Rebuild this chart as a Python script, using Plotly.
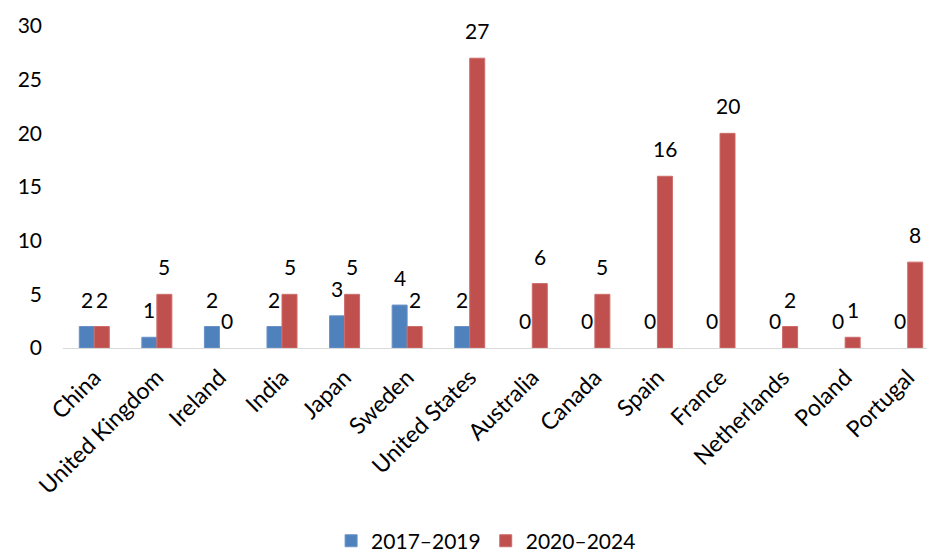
import plotly.graph_objects as go

countries = ["China", "United Kingdom", "Ireland", "India", "Japan", "Sweden",
             "United States", "Australia", "Canada", "Spain", "France",
             "Netherlands", "Poland", "Portugal"]
s2017_2019 = [2, 1, 2, 2, 3, 4, 2, 0, 0, 0, 0, 0, 0, 0]
s2020_2024 = [2, 5, 0, 5, 5, 2, 27, 6, 5, 16, 20, 2, 1, 8]
series_names = ["2017\u20132019", "2020\u20132024"]
series_colors = ["#4F81BD", "#C0504D"]
series_edges = ["#6A93C8", "#CD6D6A"]
y_ticks = [0, 5, 10, 15, 20, 25, 30]

font_family = "Lato, Carlito, Calibri, sans-serif"

W, H = 935, 558
ML, MR, MT, MB = 55, 4, 18, 206
BARGAP = 0.52

fig = go.Figure()
for name, vals, col, edge in zip(series_names, [s2017_2019, s2020_2024],
                                 series_colors, series_edges):
    fig.add_trace(go.Bar(
        x=countries, y=vals, name=name,
        marker=dict(color=col,
                    line=dict(color=edge, width=[1 if v > 0 else 0 for v in vals])),
    ))

# data labels above each bar (offset within the group)
cat_w = (W - ML - MR) / len(countries)
bar_w = cat_w * (1 - BARGAP) / 2
annotations = []
for i, vals in enumerate([s2017_2019, s2020_2024]):
    shift = (i - 0.5) * bar_w
    for c, v in zip(countries, vals):
        annotations.append(dict(
            x=c, y=v, xref="x", yref="y", text=str(v), showarrow=False,
            xshift=shift, yshift=13, yanchor="bottom", xanchor="center",
            font=dict(size=21, color="black", family=font_family),
        ))

fig.update_layout(
    width=W, height=H,
    margin=dict(l=ML, r=MR, t=MT, b=MB),
    paper_bgcolor="white", plot_bgcolor="white",
    barmode="group", bargap=BARGAP, bargroupgap=0,
    font=dict(family=font_family, size=21, color="black"),
    showlegend=True,
    legend=dict(orientation="h", x=0.483, xanchor="center", y=-0.536, yanchor="top",
                font=dict(size=21), itemwidth=30, traceorder="normal"),
    annotations=annotations,
    xaxis=dict(
        tickangle=-45, showline=True, linecolor="#D9D9D9", linewidth=1,
        ticks="", showgrid=False, automargin=False,
        tickfont=dict(size=23), ticklabelstandoff=6,
    ),
    yaxis=dict(
        range=[0, 30], tickvals=y_ticks, showgrid=False, zeroline=False,
        showline=False, ticks="", tickfont=dict(size=21), automargin=False,
        ticklabelstandoff=20,
    ),
)

fig.write_html("out.html")
